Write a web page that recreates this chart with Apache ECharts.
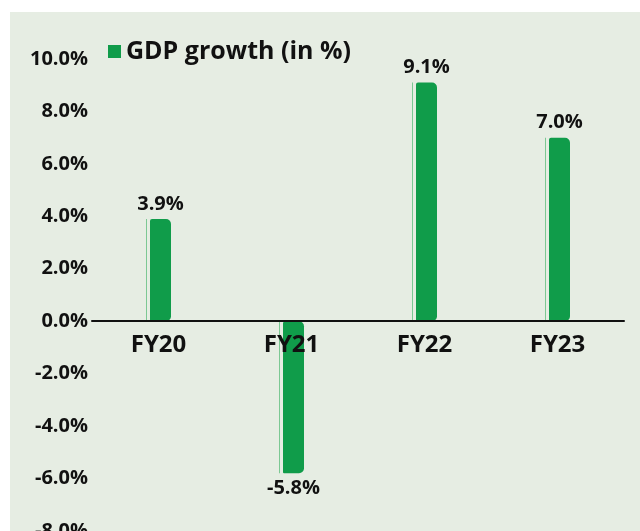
<!DOCTYPE html>
<html>
<head>
<meta charset="utf-8">
<script src="https://cdn.jsdelivr.net/npm/echarts@6/dist/echarts.min.js"></script>
<style>
  html, body { margin: 0; padding: 0; background: #ffffff; }
  #main {
    position: absolute;
    left: 10px;
    top: 12px;
    width: 630px;
    height: 519px;
  }
</style>
</head>
<body>
<div id="main"></div>
<script>
// data
const years = ["FY20", "FY21", "FY22", "FY23"];
const gdpGrowth = [3.9, -5.8, 9.1, 7.0];
const yTicks = { min: -8, max: 10, step: 2 };

const chart = echarts.init(document.getElementById("main"));

const font = "'Open Sans', 'Noto Sans', sans-serif";
const gridTop = 47;
const gridBottom = 0;
const plotHeight = 519 - gridTop - gridBottom;
// category labels sit under the zero line, not at the bottom of the plot
const zeroOffset = plotHeight * (0 - yTicks.min) / (yTicks.max - yTicks.min);

const option = {
  backgroundColor: "#e6ede3",
  textStyle: { fontFamily: font },
  animation: false,
  legend: {
    data: ["GDP growth (in %)"],
    left: 93,
    top: 22,
    itemWidth: 13,
    itemHeight: 13,
    icon: "rect",
    textStyle: {
      fontFamily: font,
      fontSize: 25,
      fontWeight: "bold",
      color: "#111",
      lineHeight: 24
    }
  },
  grid: {
    left: 82,
    right: 16,
    top: gridTop,
    bottom: gridBottom,
    outerBoundsMode: "none",
    containLabel: false
  },
  xAxis: {
    type: "category",
    data: years,
    position: "bottom",
    offset: -zeroOffset,
    z: 5, // labels and line drawn over the negative bar
    axisLine: { onZero: false, lineStyle: { color: "#111", width: 2 } },
    axisTick: { show: false },
    axisLabel: {
      margin: 12,
      fontFamily: font,
      fontSize: 24,
      fontWeight: "bold",
      color: "#111"
    }
  },
  yAxis: {
    type: "value",
    min: yTicks.min,
    max: yTicks.max,
    interval: yTicks.step,
    splitLine: { show: false },
    axisLine: { show: false },
    axisTick: { show: false },
    axisLabel: {
      margin: 4,
      fontFamily: font,
      fontSize: 20,
      fontWeight: "bold",
      color: "#111",
      padding: [0, 0, 10, 0],
      formatter: (v) => v.toFixed(1) + "%"
    }
  },
  series: [
    {
      // thin light line to the left of each bar
      name: "edge",
      type: "bar",
      data: gdpGrowth,
      barWidth: 1,
      barGap: "300%",
      silent: true,
      itemStyle: { color: "#7cc893" }
    },
    {
      name: "GDP growth (in %)",
      type: "bar",
      data: gdpGrowth,
      barWidth: 21,
      itemStyle: {
        color: "#109c4a",
        borderRadius: [2, 5, 5, 1]
      },
      label: {
        show: true,
        position: "outside",
        distance: 5,
        fontFamily: font,
        fontSize: 20,
        fontWeight: "bold",
        color: "#111",
        formatter: (p) => p.value.toFixed(1) + "%"
      }
    }
  ]
};

chart.setOption(option);
</script>
</body>
</html>
